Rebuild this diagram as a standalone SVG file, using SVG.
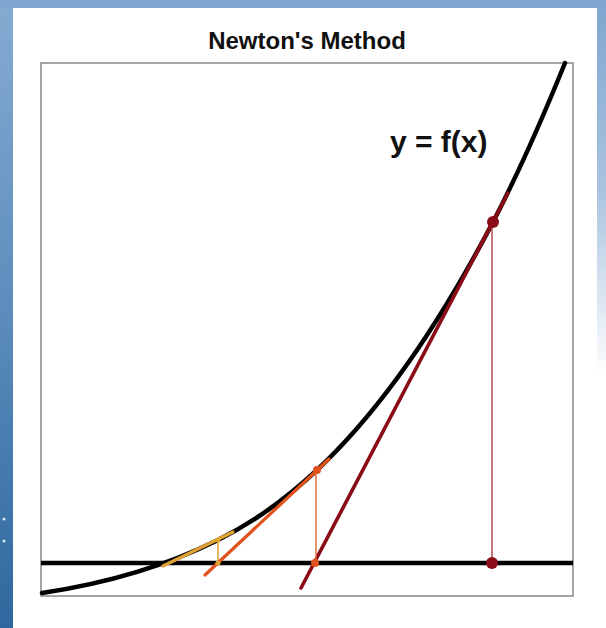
<svg xmlns="http://www.w3.org/2000/svg" width="606" height="628" viewBox="0 0 606 628">
  <defs>
    <linearGradient id="leftBg" x1="0" y1="0" x2="0" y2="1">
      <stop offset="0" stop-color="#86abd2"/>
      <stop offset="0.5" stop-color="#5b8cbc"/>
      <stop offset="1" stop-color="#2f689e"/>
    </linearGradient>
    <linearGradient id="rightBg" x1="0" y1="0" x2="0" y2="1">
      <stop offset="0" stop-color="#7fa6cf"/>
      <stop offset="0.3" stop-color="#a9c3de"/>
      <stop offset="0.6" stop-color="#ffffff"/>
    </linearGradient>
    <style>
      .frame { fill: none; stroke: #8f8f8f; stroke-width: 1.6; }
      .curve { fill: none; stroke: #000; stroke-width: 4.5; stroke-linecap: round; }
      .axis { stroke: #000; stroke-width: 4.5; }
      .t1 { stroke: #8a0c16; stroke-width: 3.6; stroke-linecap: round; }
      .v1 { stroke: #b2555a; stroke-width: 1.6; }
      .t2 { stroke: #e2521c; stroke-width: 3.2; stroke-linecap: round; }
      .v2 { stroke: #e0703c; stroke-width: 1.5; }
      .t3 { stroke: #e0a232; stroke-width: 3.2; stroke-linecap: round; }
      .v3 { stroke: #e0a232; stroke-width: 1.5; }
      .title { font-family: "Liberation Sans", Arial, sans-serif; font-weight: bold; font-size: 24px; fill: #111; }
      .label { font-family: "Liberation Sans", Arial, sans-serif; font-weight: bold; font-size: 30px; fill: #111; }
    </style>
  </defs>

  <g id="background">
    <rect x="0" y="0" width="606" height="628" fill="#ffffff"/>
    <rect x="0" y="0" width="13" height="628" fill="url(#leftBg)"/>
    <rect x="0" y="0" width="606" height="8" fill="#7ea5ce"/>
    <rect x="597" y="0" width="9" height="628" fill="url(#rightBg)"/>
    <circle cx="4" cy="519" r="1.6" fill="#cfe3f7"/>
    <circle cx="4" cy="541" r="1.6" fill="#cfe3f7"/>
  </g>

  <g id="title">
    <text class="title" x="307" y="49" text-anchor="middle">Newton's Method</text>
  </g>

  <g id="frame">
    <rect class="frame" x="41" y="63" width="532" height="533"/>
  </g>

  <g id="x-axis">
    <line class="axis" x1="41" y1="563" x2="573" y2="563"/>
  </g>

  <g id="function-curve">
    <path class="curve" d="M42,593 C100.7,584.2 159.3,569.3 218,540 C251,523.5 286,499 317,470 C375.7,415 434.3,334 493,222 C517,176 541,122 565,63"/>
  </g>

  <g id="label">
    <text class="label" x="390" y="152">y = f(x)</text>
  </g>

  <g id="connectors">
    <g id="iteration-1">
      <line class="v1" x1="492" y1="222" x2="492" y2="563"/>
      <line class="t1" x1="301" y1="588" x2="508" y2="193"/>
      <circle cx="493" cy="222" r="6" fill="#8a0c16"/>
      <circle cx="492" cy="563" r="6" fill="#8a0c16"/>
    </g>
    <g id="iteration-2">
      <line class="v2" x1="316" y1="470" x2="316" y2="563"/>
      <line class="t2" x1="205" y1="575" x2="329" y2="459"/>
      <circle cx="317" cy="470" r="4" fill="#e2521c"/>
      <circle cx="315" cy="563" r="4" fill="#e2521c"/>
    </g>
    <g id="iteration-3">
      <line class="v3" x1="218" y1="540" x2="218" y2="563"/>
      <line class="t3" x1="163" y1="566" x2="233" y2="532"/>
      <circle cx="218" cy="540" r="2.5" fill="#e0a232"/>
      <circle cx="218" cy="563" r="2.5" fill="#e0a232"/>
    </g>
  </g>
</svg>
